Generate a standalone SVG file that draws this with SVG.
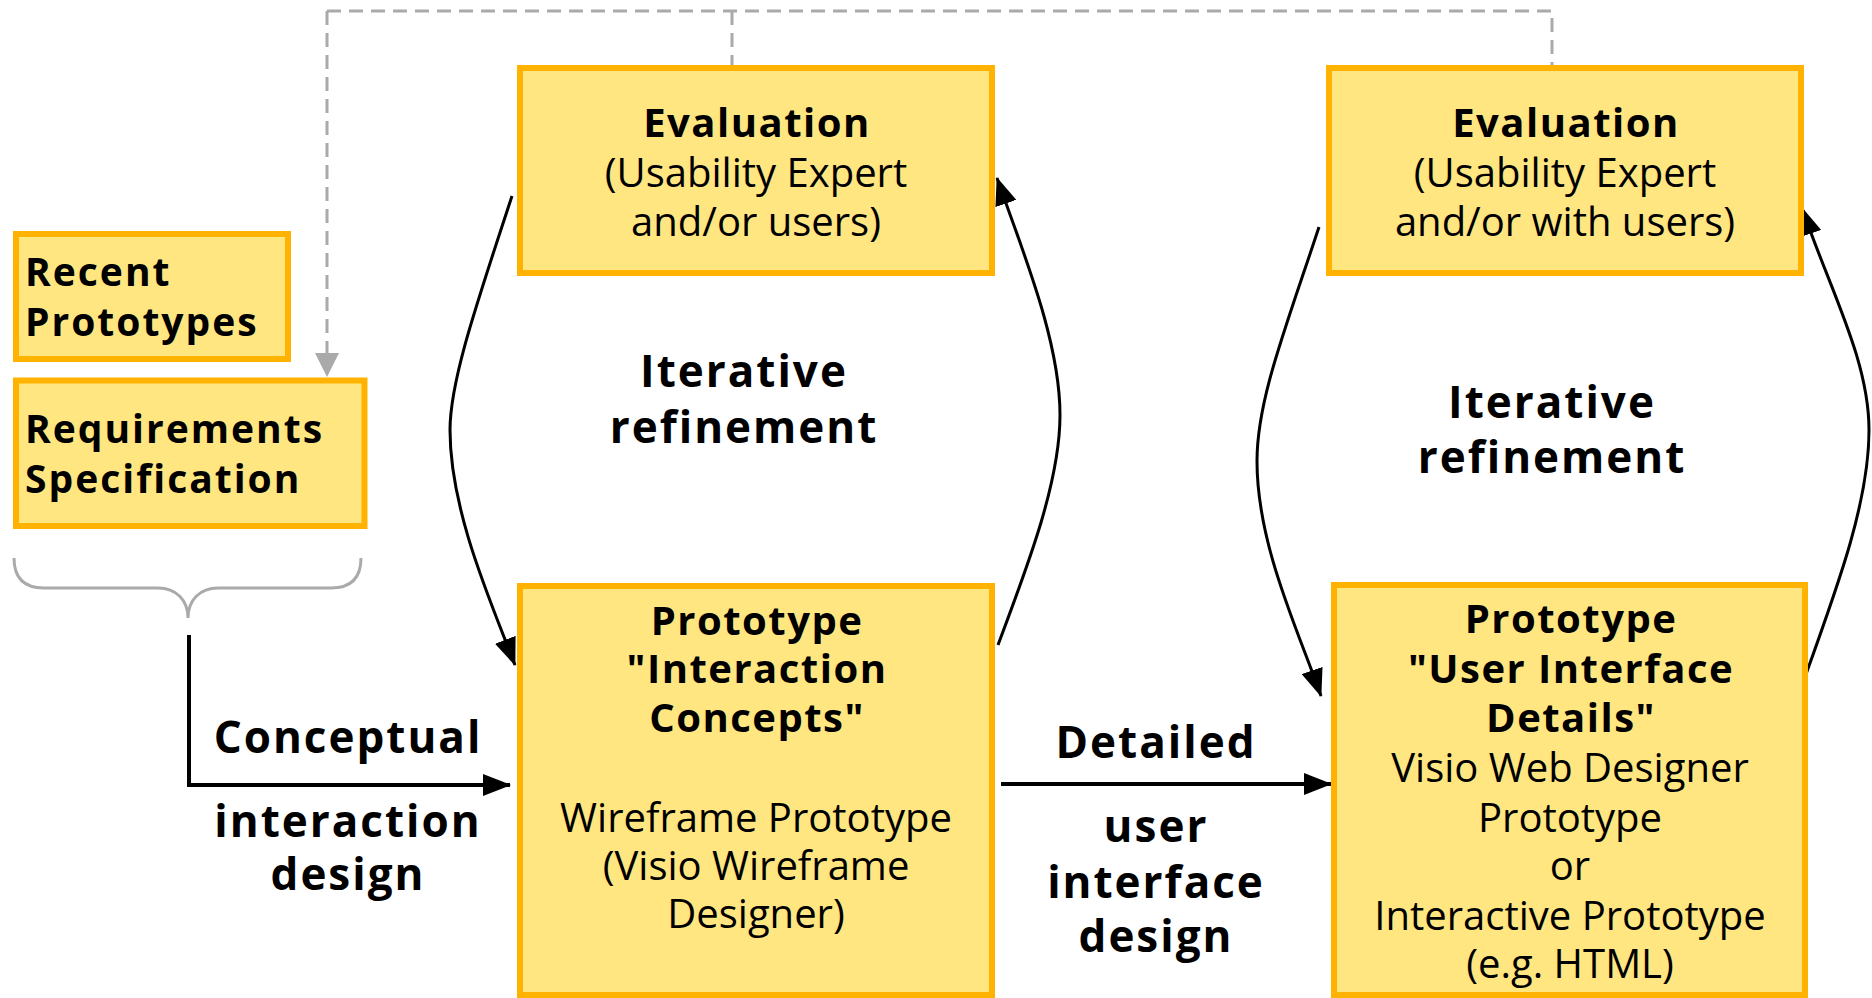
<svg xmlns="http://www.w3.org/2000/svg" width="1872" height="998" viewBox="0 0 1872 998">
<style>
.box{fill:#FFE680;stroke:#FFB300;stroke-width:6}
text{font-family:"Open Sans","Noto Sans","DejaVu Sans",sans-serif;fill:#000}
.t{font-size:40px;text-anchor:middle}
.b{font-weight:bold;letter-spacing:1.5px}
.lbl{font-size:44px;font-weight:bold;text-anchor:middle;letter-spacing:2px}
.side{font-size:39px;font-weight:bold;letter-spacing:2px}
.dash{fill:none;stroke:#AAAAAA;stroke-width:3;stroke-dasharray:14 8}
.curve{fill:none;stroke:#000;stroke-width:3}
.straight{fill:none;stroke:#000;stroke-width:4}
.brace{fill:none;stroke:#AAAAAA;stroke-width:3}
</style>
<defs>
<marker id="ah" viewBox="0 0 28 22" refX="27" refY="11" markerWidth="28" markerHeight="22" markerUnits="userSpaceOnUse" orient="auto">
<path d="M0,0 L28,11 L0,22 Z" fill="#000"/>
</marker>
</defs>

<g id="connectors">
<path class="dash" d="M327,11 V355"/>
<path class="dash" d="M327,11 H1552 V66"/>
<path class="dash" d="M732,11 V66"/>
<path d="M315,353 L339,353 L327,377 Z" fill="#AAAAAA"/>
<path class="brace" d="M14,558 C14,578 24,588 44,588 H158 C176,588 188,600 188,618 C188,600 200,588 218,588 H331 C351,588 361,578 361,558"/>
<path class="straight" d="M189,635 V785 H510" marker-end="url(#ah)"/>
<path class="straight" d="M1001,784 H1331" marker-end="url(#ah)"/>
<path class="curve" d="M512,196 C478,300 450,380 450,430 C450,510 490,600 515,665" marker-end="url(#ah)"/>
<path class="curve" d="M998,645 C1030,560 1060,480 1060,415 C1060,340 1022,250 997,178" marker-end="url(#ah)"/>
<path class="curve" d="M1319,227 C1285,330 1257,400 1257,461 C1257,545 1298,630 1321,696" marker-end="url(#ah)"/>
<path class="curve" d="M1805,677 C1840,580 1869,500 1869,430 C1869,360 1830,290 1802,208" marker-end="url(#ah)"/>
</g>

<g id="recent-prototypes">
<rect class="box" x="16" y="234" width="272" height="125"/>
<text class="side" x="25" y="286">Recent</text>
<text class="side" x="25" y="336">Prototypes</text>
</g>

<g id="requirements-specification">
<rect class="box" x="16" y="380.5" width="348.5" height="145.5"/>
<text class="side" x="25" y="443">Requirements</text>
<text class="side" x="25" y="493">Specification</text>
</g>

<g id="evaluation-1">
<rect class="box" x="520" y="68" width="472" height="205"/>
<text class="t b" x="757" y="137">Evaluation</text>
<text class="t" x="756" y="187">(Usability Expert</text>
<text class="t" x="756" y="236">and/or users)</text>
</g>

<g id="evaluation-2">
<rect class="box" x="1329" y="68" width="472" height="205"/>
<text class="t b" x="1566" y="137">Evaluation</text>
<text class="t" x="1565" y="187">(Usability Expert</text>
<text class="t" x="1565" y="236">and/or with users)</text>
</g>

<g id="prototype-interaction-concepts">
<rect class="box" x="520" y="586" width="472" height="409"/>
<text class="t b" x="757" y="635">Prototype</text>
<text class="t b" x="757" y="683">"Interaction</text>
<text class="t b" x="757" y="732">Concepts"</text>
<text class="t" x="756" y="832">Wireframe Prototype</text>
<text class="t" x="756" y="880">(Visio Wireframe</text>
<text class="t" x="756" y="928">Designer)</text>
</g>

<g id="prototype-user-interface-details">
<rect class="box" x="1334" y="585" width="471" height="410"/>
<text class="t b" x="1571" y="633">Prototype</text>
<text class="t b" x="1571" y="683">"User Interface</text>
<text class="t b" x="1571" y="732">Details"</text>
<text class="t" x="1570" y="782">Visio Web Designer</text>
<text class="t" x="1570" y="832">Prototype</text>
<text class="t" x="1570" y="880">or</text>
<text class="t" x="1570" y="930">Interactive Prototype</text>
<text class="t" x="1570" y="978">(e.g. HTML)</text>
</g>

<g id="labels">
<text class="lbl" x="744" y="387">Iterative</text>
<text class="lbl" x="744" y="443">refinement</text>
<text class="lbl" x="1552" y="418">Iterative</text>
<text class="lbl" x="1552" y="473">refinement</text>
<text class="lbl" x="348" y="753">Conceptual</text>
<text class="lbl" x="348" y="837">interaction</text>
<text class="lbl" x="348" y="890">design</text>
<text class="lbl" x="1156" y="758">Detailed</text>
<text class="lbl" x="1156" y="842">user</text>
<text class="lbl" x="1156" y="898">interface</text>
<text class="lbl" x="1156" y="952">design</text>
</g>
</svg>
